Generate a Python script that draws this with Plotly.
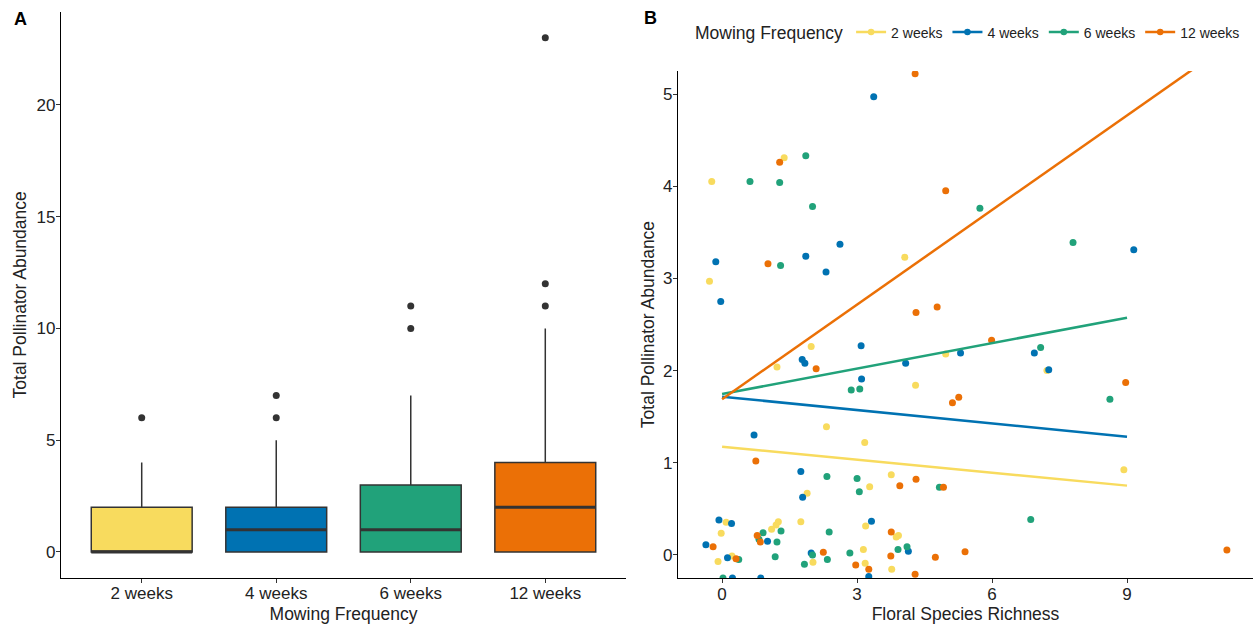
import numpy as np
import plotly.graph_objects as go

# ---------------- data ----------------
categories = ["2 weeks", "4 weeks", "6 weeks", "12 weeks"]
colors = ["#F8DB5E", "#0072B2", "#21A27A", "#EB7006"]

# Panel A: box statistics
box_q1 = [0, 0, 0, 0]
box_median = [0, 1, 1, 2]
box_q3 = [2, 2, 3, 4]
box_lower = [0, 0, 0, 0]
box_upper = [4, 5, 7, 10]
outliers = [[6], [6, 7], [10, 11], [11, 12, 23]]

# Panel B: jittered points (floral richness, pollinator abundance)
w2_x = [1.38, -0.23, 4.06, -0.28, 1.98, 1.22, 4.30, 2.32, 3.17, 3.76, 3.28, 1.89, 0.09, -0.02,
        1.25, 1.20, 1.10, 1.75, 3.19, 3.87, 3.92, 0.22, -0.09, 2.02, 3.14, 3.18, 3.77, 4.97,
        7.22, 8.93]
w2_y = [4.31, 4.05, 3.23, 2.97, 2.26, 2.04, 1.84, 1.39, 1.22, 0.87, 0.74, 0.67, 0.355, 0.235,
        0.36, 0.326, 0.28, 0.36, 0.315, 0.195, 0.21, -0.01, -0.07, -0.08, 0.06, -0.09, -0.155, 2.18,
        2.0, 0.925]
w4_x = [3.37, 2.62, -0.14, 1.86, 2.31, -0.03, 3.09, 1.78, 1.84, 4.08, 3.10, 0.71, 1.75, 1.79,
        -0.07, 0.21, 1.01, 3.32, 4.14, -0.36, 0.12, 1.98, 3.26, 0.86, 0.23, 9.15, 5.30, 6.94, 7.26]
w4_y = [4.97, 3.37, 3.18, 3.24, 3.07, 2.75, 2.27, 2.12, 2.08, 2.08, 1.91, 1.30, 0.905, 0.627,
        0.38, 0.34, 0.15, 0.365, 0.04, 0.11, -0.03, 0.02, -0.235, -0.25, -0.25, 3.31, 2.19, 2.19, 2.01]
w6_x = [1.86, 0.62, 1.28, 2.01, 1.30, 2.87, 3.06, 2.33, 3.00, 3.05, 0.91, 0.82, 1.31, 1.22,
        2.38, 4.11, 3.91, 0.37, 1.18, 2.01, 1.83, 2.34, 2.84, 0.02, 5.73, 7.80, 7.08, 8.62, 4.83, 6.86]
w6_y = [4.33, 4.05, 4.04, 3.78, 3.14, 1.79, 1.80, 0.85, 0.83, 0.685, 0.24, 0.17, 0.26, 0.14,
        0.25, 0.09, 0.06, -0.05, -0.02, 0.0, -0.10, -0.05, 0.02, -0.25, 3.76, 3.39, 2.25, 1.69, 0.735, 0.385]
w12_x = [4.29, 1.28, 1.02, 4.31, 2.09, 0.75, 4.31, 3.95, 0.78, 0.85, 3.76, -0.20, 0.31, 2.25,
         2.97, 3.26, 3.75, 4.29, 4.97, 4.78, 5.99, 5.26, 5.12, 8.97, 4.92, 4.74, 5.40, 11.22]
w12_y = [5.22, 4.26, 3.16, 2.63, 2.02, 1.02, 0.82, 0.75, 0.21, 0.14, 0.25, 0.09, -0.04, 0.03,
         -0.11, -0.155, -0.01, -0.21, 3.95, 2.69, 2.33, 1.71, 1.65, 1.87, 0.735, -0.025, 0.036, 0.054]
points_x = [w2_x, w4_x, w6_x, w12_x]
points_y = [w2_y, w4_y, w6_y, w12_y]

# Panel B: linear fits per group
fit_intercept = [1.175, 1.717, 1.746, 1.690]
fit_slope = [-0.0470, -0.0482, 0.0920, 0.3420]
fit_xmin = [0, 0, 0, 0]
fit_xmax = [9, 9, 9, 11]

# ---------------- styling ----------------
W, H = 1253, 626
FONT = "Liberation Sans, Arial, sans-serif"
TXT = "#222222"
BOX_W = 0.75

fig = go.Figure()

# Panel A boxes
for i, cat in enumerate(categories):
    fig.add_trace(go.Box(
        x=[i], q1=[box_q1[i]], median=[box_median[i]], q3=[box_q3[i]],
        lowerfence=[box_lower[i]], upperfence=[box_upper[i]],
        width=BOX_W, whiskerwidth=0, fillcolor=colors[i],
        line=dict(color="#333333", width=1.5),
        showlegend=False, xaxis="x", yaxis="y", name=cat,
    ))

# thicker median lines
mx, my = [], []
for i in range(len(categories)):
    mx += [i - BOX_W / 2, i + BOX_W / 2, None]
    my += [box_median[i], box_median[i], None]
fig.add_trace(go.Scatter(x=mx, y=my, mode="lines", line=dict(color="#333333", width=3),
                         showlegend=False, hoverinfo="skip", xaxis="x", yaxis="y"))

# outliers
ox, oy = [], []
for i, vals in enumerate(outliers):
    ox += [i] * len(vals)
    oy += vals
fig.add_trace(go.Scatter(x=ox, y=oy, mode="markers", marker=dict(color="#333333", size=7),
                         showlegend=False, xaxis="x", yaxis="y"))

# Panel B points
for i, cat in enumerate(categories):
    fig.add_trace(go.Scatter(
        x=points_x[i], y=points_y[i], mode="markers",
        marker=dict(color=colors[i], size=7),
        showlegend=False, legendgroup=cat, name=cat, xaxis="x2", yaxis="y2",
    ))

# Panel B fit lines
for i, cat in enumerate(categories):
    xs = np.linspace(fit_xmin[i], fit_xmax[i], 50)
    ys = fit_intercept[i] + fit_slope[i] * xs
    fig.add_trace(go.Scatter(
        x=xs, y=ys, mode="lines", line=dict(color=colors[i], width=2.5),
        showlegend=False, legendgroup=cat, name=cat, xaxis="x2", yaxis="y2",
    ))

# legend entries
for i, cat in enumerate(categories):
    fig.add_trace(go.Scatter(
        x=[None], y=[None], mode="lines+markers",
        line=dict(color=colors[i], width=2.5), marker=dict(color=colors[i], size=6.5),
        name=cat, legendgroup=cat, showlegend=True, xaxis="x2", yaxis="y2",
    ))

axis_common = dict(
    showline=True, linecolor="black", linewidth=1.2, mirror=False,
    ticks="outside", ticklen=4, tickwidth=1, tickcolor="#333333",
    showgrid=False, zeroline=False, automargin=False,
    tickfont=dict(family=FONT, size=17, color=TXT),
)
title_font = dict(family=FONT, size=17.5, color=TXT)

fig.update_layout(
    template="none",
    width=W, height=H,
    margin=dict(l=0, r=0, t=0, b=0, pad=0),
    paper_bgcolor="white", plot_bgcolor="white",
    font=dict(family=FONT, color=TXT),
    xaxis=dict(domain=[61 / W, 626 / W], range=[-0.6, 3.6], tickvals=list(range(4)),
               ticktext=categories, anchor="y", ticklabelstandoff=-4,
               title=dict(text="Mowing Frequency", font=title_font, standoff=5),
               **axis_common),
    yaxis=dict(domain=[(H - 577.7) / H, (H - 12) / H], range=[-1.15, 24.15],
               tickvals=[0, 5, 10, 15, 20], anchor="x", ticklabelstandoff=-3,
               title=dict(text="Total Pollinator Abundance", font=title_font, standoff=5),
               **axis_common),
    xaxis2=dict(domain=[678 / W, 1.0], range=[-0.98, 11.8], tickvals=[0, 3, 6, 9], anchor="y2",
                ticklabelstandoff=-4,
                title=dict(text="Floral Species Richness", font=title_font, standoff=5),
                **axis_common),
    yaxis2=dict(domain=[(H - 578) / H, (H - 71) / H], range=[-0.25, 5.25],
                tickvals=[0, 1, 2, 3, 4, 5], anchor="x2", ticklabelstandoff=-3,
                title=dict(text="Total Pollinator Abundance", font=title_font, standoff=3),
                **axis_common),
    legend=dict(orientation="h", x=693 / W, xanchor="left", y=(H - 33) / H, yanchor="middle",
                title=dict(text="Mowing Frequency", side="left", font=title_font),
                font=dict(family=FONT, size=14, color=TXT), bgcolor="rgba(0,0,0,0)",
                itemwidth=30, tracegroupgap=0),
    annotations=[
        dict(text="<b>A</b>", x=12 / W, y=(H - 19) / H, xref="paper", yref="paper",
             xanchor="left", yanchor="middle", showarrow=False, font=dict(family=FONT, size=18, color="black")),
        dict(text="<b>B</b>", x=642 / W, y=(H - 18) / H, xref="paper", yref="paper",
             xanchor="left", yanchor="middle", showarrow=False, font=dict(family=FONT, size=18, color="black")),
    ],
)

fig.write_html(
    "out.html",
    config={"displayModeBar": False},
    post_script="document.body.style.margin='0';document.body.style.overflow='hidden';",
)
